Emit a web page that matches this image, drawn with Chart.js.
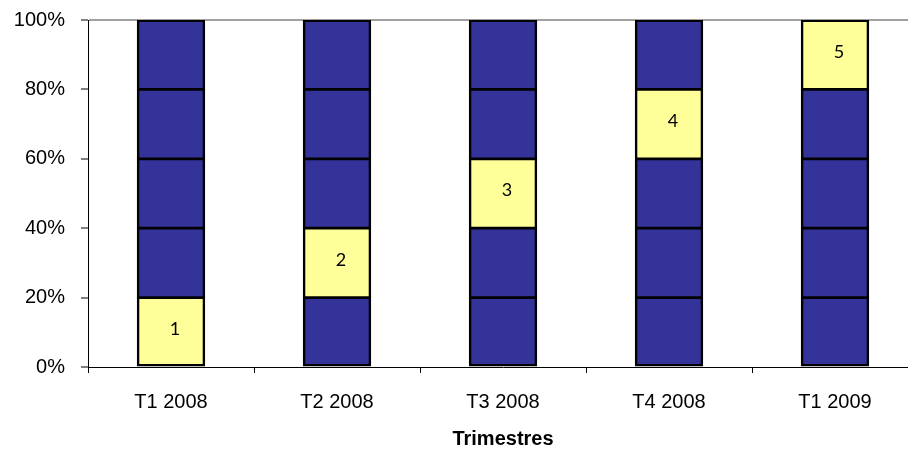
<!DOCTYPE html>
<html>
<head>
<meta charset="utf-8">
<script src="https://cdn.jsdelivr.net/npm/chart.js@4/dist/chart.umd.min.js"></script>
<style>
  html, body { margin: 0; padding: 0; background: #fff; overflow: hidden; }
  #wrap { width: 930px; height: 451px; }
</style>
</head>
<body>
<div id="wrap"><canvas id="chart" width="930" height="451"></canvas></div>
<script>
// Quarters on the horizontal axis
const categories = ['T1 2008', 'T2 2008', 'T3 2008', 'T4 2008', 'T1 2009'];

// Five stacked slices of 20% per quarter, bottom to top
const slice1 = [20, 20, 20, 20, 20];
const slice2 = [20, 20, 20, 20, 20];
const slice3 = [20, 20, 20, 20, 20];
const slice4 = [20, 20, 20, 20, 20];
const slice5 = [20, 20, 20, 20, 20];

// Which slice is highlighted in each quarter (0 = bottom), and its label
const highlightSlice = [0, 1, 2, 3, 4];
const highlightLabels = ['1', '2', '3', '4', '5'];

// Y axis tick values
const yTicks = [0, 20, 40, 60, 80, 100];

const BLUE = '#333399';
const YELLOW = '#FFFF99';
const slices = [slice1, slice2, slice3, slice4, slice5];
const last = slices.length - 1;

const datasets = slices.map((values, s) => ({
  label: 'Tranche ' + (s + 1),
  data: values,
  backgroundColor: categories.map((_, i) => highlightSlice[i] === s ? YELLOW : BLUE),
  borderColor: '#000',
  // shared edges between stacked slices are split so dividers match the outline
  borderWidth: { top: s === last ? 2.5 : 2, bottom: s === 0 ? 2.5 : 2, left: 2.5, right: 2.5 },
  borderSkipped: false,
  // slight overlap so no light seam shows between stacked slices
  inflateAmount: 0.6,
  barPercentage: 0.81,
  categoryPercentage: 0.5
}));

// Writes the label inside each highlighted slice
const sliceLabels = {
  id: 'sliceLabels',
  afterDatasetsDraw(chart) {
    const ctx = chart.ctx;
    ctx.save();
    ctx.font = '18px Lato, "Noto Sans", sans-serif';
    ctx.fillStyle = '#000';
    ctx.textAlign = 'center';
    ctx.textBaseline = 'middle';
    categories.forEach((_, i) => {
      const s = highlightSlice[i];
      const el = chart.getDatasetMeta(s).data[i];
      const c = el.getCenterPoint();
      ctx.fillText(highlightLabels[i], c.x + 4, c.y - 3);
    });
    ctx.restore();
  }
};

const axisFont = { family: '"Liberation Sans", Arial, sans-serif', size: 20 };

new Chart(document.getElementById('chart'), {
  type: 'bar',
  data: { labels: categories, datasets },
  options: {
    responsive: false,
    animation: false,
    layout: { padding: { top: 20, right: 12, left: 0, bottom: 0 } },
    plugins: { legend: { display: false }, tooltip: { enabled: false } },
    scales: {
      x: {
        stacked: true,
        border: { color: '#000', width: 1 },
        grid: {
          offset: true,
          drawOnChartArea: false,
          drawTicks: true,
          tickLength: 6,
          tickColor: '#000'
        },
        ticks: {
          color: '#000',
          padding: 17,
          font: axisFont
        },
        title: {
          display: true,
          text: 'Trimestres',
          color: '#000',
          padding: { top: 8, bottom: 0 },
          font: { family: axisFont.family, size: 20, weight: 'bold' }
        },
        afterFit(scale) {
          scale.height = 84;
          scale.paddingLeft = 0;
          scale.paddingRight = 0;
        }
      },
      y: {
        stacked: true,
        min: 0,
        max: 100,
        afterBuildTicks(scale) { scale.ticks = yTicks.map(v => ({ value: v })); },
        border: { color: '#000', width: 1 },
        grid: {
          color: ctx => (ctx.tick && ctx.tick.value === 100 ? '#a0a0a0' : 'rgba(0,0,0,0)'),
          lineWidth: 2,
          drawTicks: true,
          tickLength: 7,
          tickColor: '#000',
          tickWidth: 1
        },
        ticks: {
          color: '#000',
          padding: 16,
          callback: v => v + '%',
          font: axisFont
        },
        afterFit(scale) {
          scale.width = 88;
          scale.paddingTop = 0;
          scale.paddingBottom = 0;
        }
      }
    }
  },
  plugins: [sliceLabels]
});
</script>
</body>
</html>
